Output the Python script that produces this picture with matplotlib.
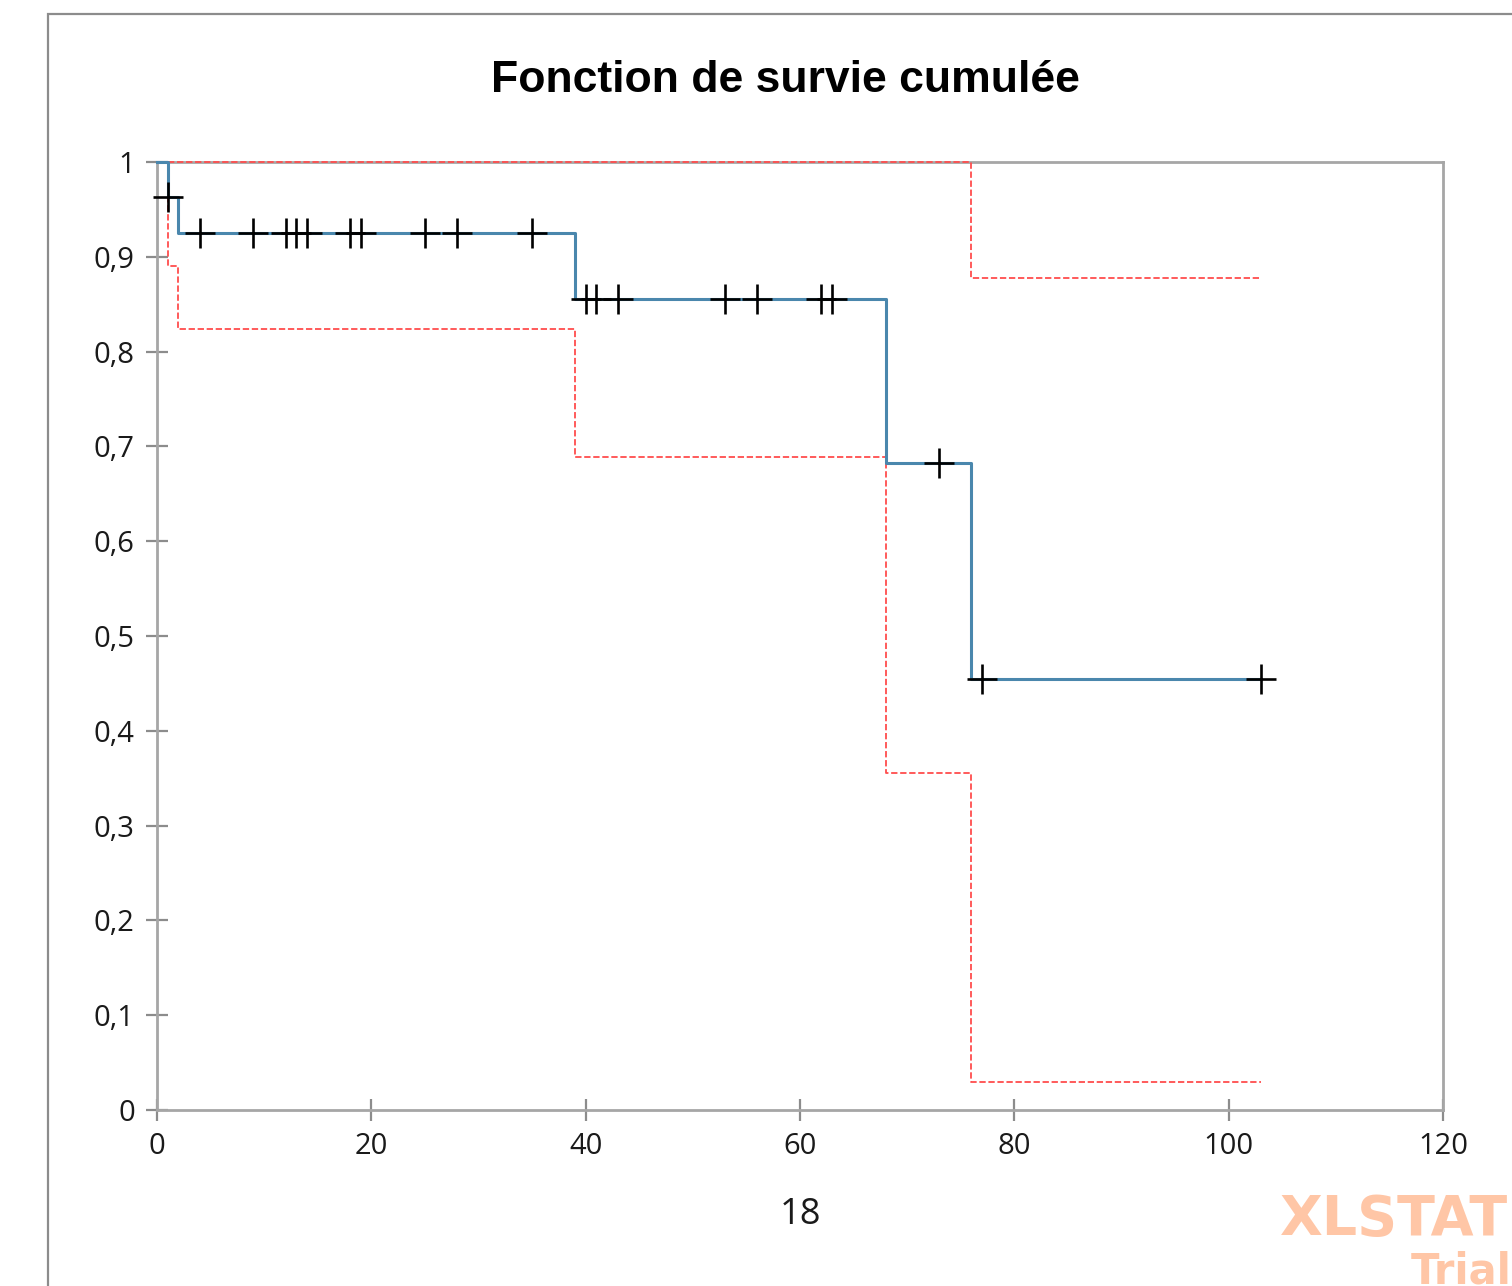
import numpy as np
import matplotlib
matplotlib.use('Agg')
import matplotlib.pyplot as plt
from matplotlib.patches import Rectangle

# Kaplan-Meier steps (time, survival)
times = [0, 1, 2, 39, 68, 76, 103]
surv = [1.0, 0.963, 0.925, 0.855, 0.683, 0.455, 0.455]

# confidence bounds
ci_times = [0, 1, 2, 39, 68, 76, 103]
lower = [1.0, 0.890, 0.824, 0.689, 0.356, 0.030, 0.030]
upper = [1.0, 1.0, 1.0, 1.0, 1.0, 0.878, 0.878]

# censored times
censored = [1, 4, 9, 12, 13, 14, 18, 19, 25, 28, 35, 40, 41, 43, 53, 56, 62, 63, 73, 77, 103]

x_ticks = [0, 20, 40, 60, 80, 100, 120]
y_ticks = [0, 0.1, 0.2, 0.3, 0.4, 0.5, 0.6, 0.7, 0.8, 0.9, 1]
y_labels = ['0', '0,1', '0,2', '0,3', '0,4', '0,5', '0,6', '0,7', '0,8', '0,9', '1']

fig = plt.figure(figsize=(15.12, 12.86), dpi=100)
ax = fig.add_axes([157/1512, 1 - 1110/1286, (1443-157)/1512, (1110-162)/1286])

# outer chart border
fig.patches.append(Rectangle((48/1512, -0.1), 1.2, 1.1 - 14/1286,
                             transform=fig.transFigure, fill=False,
                             edgecolor='#8c8c8c', linewidth=1.6))

ax.step(ci_times, lower, where='post', color='#ff4d4d', linestyle=(0, (3.5, 1.5)),
        linewidth=1.3, zorder=3, clip_on=False)
ax.step(ci_times[1:], upper[1:], where='post', color='#ff4d4d', linestyle=(0, (3.5, 1.5)),
        linewidth=1.3, zorder=3, clip_on=False)
ax.step(times, surv, where='post', color='#4a87ad', linewidth=2.2, zorder=3.5, clip_on=False)

idx = np.searchsorted(times, censored, side='right') - 1
cens_y = np.array(surv)[idx]
ax.plot(censored, cens_y, linestyle='none', marker='+', markersize=21,
        markeredgewidth=1.9, color='black', zorder=4, clip_on=False)

ax.set_xlim(0, 120)
ax.set_ylim(0, 1)
ax.set_xticks(x_ticks)
ax.set_xticklabels([str(v) for v in x_ticks])
ax.set_yticks(y_ticks)
ax.set_yticklabels(y_labels)

for s in ax.spines.values():
    s.set_color('#a6a6a6')
    s.set_linewidth(2)
ax.tick_params(direction='inout', length=16, width=1.6, color='#8c8c8c',
               labelsize=21, labelcolor='#1a1a1a', pad=8)
for lab in ax.get_xticklabels() + ax.get_yticklabels():
    lab.set_fontfamily('Open Sans')

ax.set_xlabel('18', fontsize=26, fontfamily='Open Sans', color='#1a1a1a', labelpad=26)

fig.text(785/1512, 1 - 80/1286, 'Fonction de survie cumulée', ha='center', va='center',
         fontsize=32, fontweight='bold', fontfamily='Liberation Sans', color='black')

# watermark (cut at the edge, as in the original)
fig.text(1280/1512, 1 - 1220/1286, 'XLSTAT', ha='left', va='center', fontsize=40,
         fontweight='bold', fontfamily='DejaVu Sans', color='#ffc6a6')
fig.text(1.0, 1 - 1272/1286, 'Trial', ha='right', va='center', fontsize=30,
         fontweight='bold', fontfamily='DejaVu Sans', color='#ffc6a6')

fig.savefig('out.png', dpi=100)
